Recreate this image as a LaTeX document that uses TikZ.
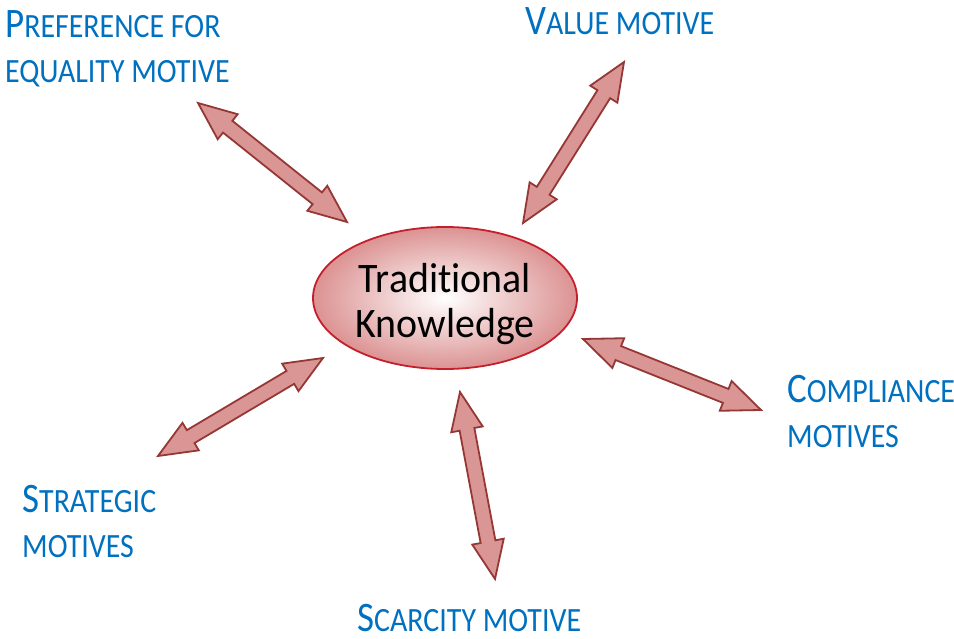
\documentclass[tikz,border=0pt]{standalone}
\usepackage{fontspec}
\setmainfont{Carlito}[FakeStretch=0.88]
\newfontfamily\knowfont{Carlito}[FakeStretch=0.95, Ligatures=NoCommon]
\usetikzlibrary{calc,shapes.geometric}

\definecolor{motiveblue}{RGB}{0,112,192}
\definecolor{arrowfill}{RGB}{217,150,148}
\definecolor{arrowedge}{RGB}{149,55,53}
\definecolor{knowedge}{RGB}{196,32,44}
\definecolor{knowfill}{RGB}{220,146,146}

% first letter of a small-caps label
\newcommand\initcap[1]{{\fontsize{42}{45}\selectfont #1}}

% block arrow with a head at both ends
\newcommand\twoway[2]{%
  \path ($(#1)!38pt!(#2)$) coordinate (ha) ($(#2)!38pt!(#1)$) coordinate (hb);
  \draw[dblarrow] (#1) -- ($(ha)!16pt!90:(#2)$) -- ($(ha)!7.5pt!90:(#2)$) --
    ($(hb)!7.5pt!-90:(#1)$) -- ($(hb)!16pt!-90:(#1)$) -- (#2) --
    ($(hb)!16pt!90:(#1)$) -- ($(hb)!7.5pt!90:(#1)$) --
    ($(ha)!7.5pt!-90:(#2)$) -- ($(ha)!16pt!-90:(#2)$) -- cycle;
}

\tikzset{
  motive/.style={text=motiveblue, font=\fontsize{34}{45}\selectfont,
    inner sep=0pt, anchor=north west},
  twolines/.style={motive, align=left},
  dblarrow/.style={fill=arrowfill, draw=arrowedge, line width=1.8pt, line join=miter},
  knowledge/.style={ellipse, draw=knowedge, line width=1.8pt,
    inner color=white, outer color=knowfill,
    minimum width=264pt, minimum height=142pt, inner sep=0pt,
    font=\knowfont\fontsize{42}{45}\selectfont, align=center}
}

\begin{document}
\begin{tikzpicture}[x=1pt,y=-1pt]
\useasboundingbox (0,0) rectangle (954,639);

% The centre
\node[knowledge] (know) at (445,298) {\rule{0pt}{41.5pt}Traditional\\Knowledge};

% The motives
\node[twolines] (equality) at (5,10) {\initcap{P}REFERENCE FOR\\EQUALITY MOTIVE};
\node[motive] (value) at (525,7) {\initcap{V}ALUE MOTIVE};
\node[twolines] (compliance) at (787,375) {\initcap{C}OMPLIANCE\\MOTIVES};
\node[twolines] (strategic) at (22,485) {\initcap{S}TRATEGIC\\MOTIVES};
\node[motive] (scarcity) at (357,604) {\initcap{S}CARCITY MOTIVE};

% Tips of the arrows
\coordinate (equality tip) at (198,103);
\coordinate (equality end) at (347,222);
\coordinate (value tip) at (624,62);
\coordinate (value end) at (523,223);
\coordinate (compliance tip) at (761,410);
\coordinate (compliance end) at (583,339);
\coordinate (scarcity tip) at (495,579);
\coordinate (scarcity end) at (460,392);
\coordinate (strategic tip) at (158,456);
\coordinate (strategic end) at (323,358);

% The arrows
\foreach \m in {equality,value,compliance,scarcity,strategic}
  \twoway{\m\space end}{\m\space tip};

\end{tikzpicture}
\end{document}
